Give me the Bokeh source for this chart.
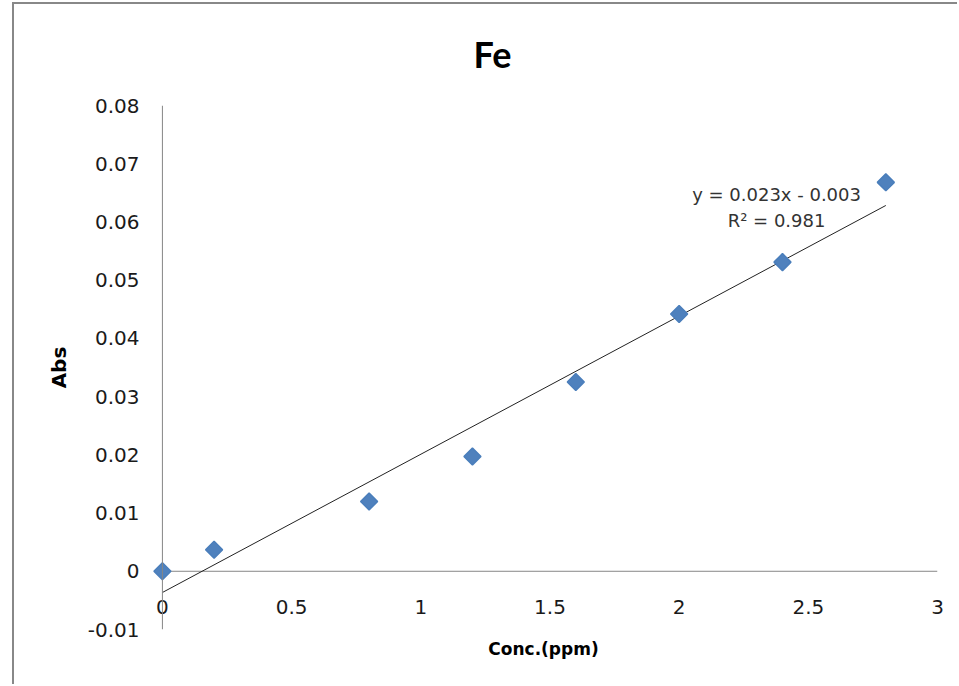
import numpy as np
from bokeh.plotting import figure
from bokeh.models import Span, Label, Title, FixedTicker
from bokeh.embed import file_html
from bokeh.resources import INLINE

# ---- data ----
conc = [0.0, 0.2, 0.8, 1.2, 1.6, 2.0, 2.4, 2.8]
absorb = [0.0, 0.0037, 0.0120, 0.0197, 0.0325, 0.0442, 0.0531, 0.0668]

x_ticks = [0, 0.5, 1, 1.5, 2, 2.5, 3]
x_tick_labels = ["0", "0.5", "1", "1.5", "2", "2.5", "3"]
y_ticks = [-0.01, 0, 0.01, 0.02, 0.03, 0.04, 0.05, 0.06, 0.07, 0.08]
y_tick_labels = ["-0.01", "0", "0.01", "0.02", "0.03", "0.04", "0.05", "0.06", "0.07", "0.08"]

title_text = "Fe"
x_label = "Conc.(ppm)"
y_label = "Abs"
eq_text = "y = 0.023x - 0.003"
r2_text = "R² = 0.981"

# linear trendline through the points
slope, intercept = np.polyfit(conc, absorb, 1)
trend_x = [conc[0], conc[-1]]
trend_y = [slope * v + intercept for v in trend_x]

AXIS_GRAY = "#868686"
TEXT = "#1a1a1a"

# a little room left of x = 0 so the first marker is not clipped
p = figure(
    width=945, height=682,
    x_range=(-0.05, 3), y_range=(-0.01, 0.08),
    output_backend="svg", toolbar_location=None,
    min_border_left=135, min_border_top=100, min_border_right=22, min_border_bottom=57,
    background_fill_color="white", border_fill_color="white",
)
p.styles = {"border-top": "2px solid #888888", "border-left": "2px solid #888888",
            "margin-left": "12px", "margin-top": "2px"}
p.outline_line_color = None
p.xgrid.visible = False
p.ygrid.visible = False

# title
t = Title(text=title_text, text_font="Lato", text_font_size="36px",
          text_font_style="bold", text_color="#000000", align="left",
          offset=324, standoff=55, vertical_align="top")
p.title = t

# y axis (line drawn separately at x = 0)
ya = p.yaxis[0]
ya.ticker = FixedTicker(ticks=y_ticks)
ya.major_label_overrides = {v: s for v, s in zip(y_ticks, y_tick_labels)}
ya.axis_line_color = None
ya.major_tick_line_color = None
ya.minor_tick_line_color = None
ya.major_tick_out = 0
ya.major_tick_in = 0
ya.major_label_standoff = 10
ya.major_label_text_font = "DejaVu Sans"
ya.major_label_text_font_size = "20px"
ya.major_label_text_color = TEXT
ya.axis_label = y_label
ya.axis_label_text_font = "DejaVu Sans"
ya.axis_label_text_font_size = "20px"
ya.axis_label_text_font_style = "bold"
ya.axis_label_text_color = "#000000"
ya.axis_label_standoff = 14

# x axis (labels pulled up above the frame bottom, like the reference)
xa = p.xaxis[0]
xa.ticker = FixedTicker(ticks=x_ticks)
xa.major_label_overrides = {v: s for v, s in zip(x_ticks, x_tick_labels)}
xa.axis_line_color = None
xa.major_tick_line_color = None
xa.minor_tick_line_color = None
xa.major_tick_out = 0
xa.major_tick_in = 0
xa.major_label_standoff = -30
xa.major_label_text_font = "DejaVu Sans"
xa.major_label_text_font_size = "20px"
xa.major_label_text_color = TEXT
xa.axis_label = x_label
xa.axis_label_text_font = "DejaVu Sans"
xa.axis_label_text_font_size = "17px"
xa.axis_label_text_font_style = "bold"
xa.axis_label_text_color = "#000000"
xa.axis_label_standoff = 22

# axis lines crossing at the origin
p.add_layout(Span(location=0, dimension="height", line_color=AXIS_GRAY, line_width=1))
p.segment(x0=[x_ticks[0]], y0=[0], x1=[x_ticks[-1]], y1=[0],
          line_color=AXIS_GRAY, line_width=1)

# trendline
p.line(trend_x, trend_y, line_color="#222222", line_width=1)

# points
p.scatter(conc, absorb, marker="square", angle=np.pi / 4, size=12,
          fill_color="#4F81BD", line_color="#4A7EBB", line_width=1.5)

# equation labels
p.add_layout(Label(x=2.377, y=0.0647, text=eq_text, text_align="center",
                   text_baseline="middle", text_font="DejaVu Sans",
                   text_font_size="18px", text_color="#333333"))
p.add_layout(Label(x=2.377, y=0.0603, text=r2_text, text_align="center",
                   text_baseline="middle", text_font="DejaVu Sans",
                   text_font_size="18px", text_color="#333333"))

open("out.html", "w").write(file_html(p, INLINE))
